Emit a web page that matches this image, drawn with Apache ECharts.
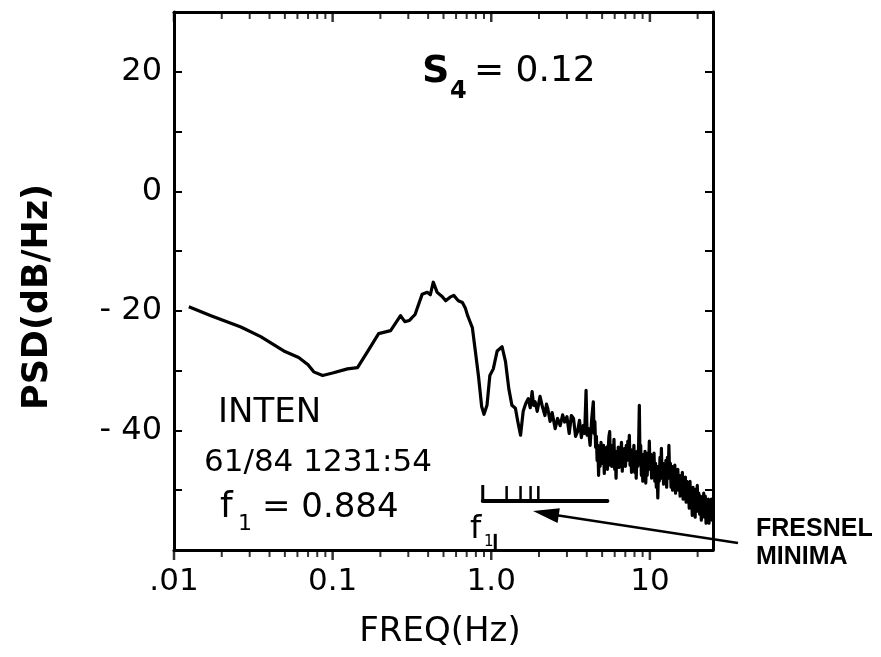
<!DOCTYPE html>
<html><head><meta charset="utf-8">
<script src="https://cdn.jsdelivr.net/npm/echarts@6/dist/echarts.min.js"></script>
<style>html,body{margin:0;padding:0;background:#fff}#c{width:881px;height:657px}</style>
</head><body><div id="c"></div>
<script>
// ---- data ----
const freq = [
  0.0124,0.0171,0.0264,0.0352,0.0492,0.0611,0.070,0.076,0.0865,0.100,
  0.124,0.1435,0.166,0.195,0.232,0.250,0.268,0.285,0.305,0.331,
  0.367,0.395,0.413,0.431,0.456,0.49,0.516,0.55,0.58,0.62,
  0.658,0.686,0.71,0.737,0.76,0.79,0.83,0.87,0.90,0.94,
  0.98,1.03,1.09,1.17,1.23,1.29,1.35,1.42,1.47,1.53,
  1.59,1.65,1.71,1.76,1.81,1.85,1.89,1.95,2.03,2.10,
  2.18,2.23,2.27,2.35,2.42,2.53,2.62,2.72,2.82,2.90,
  3.0,3.1,3.2,3.3,3.4,3.5,3.6,3.7,3.8,3.88,
  3.96,4.02,4.1,4.2,4.3,
  4.40,4.45,4.50,4.55,4.60,4.65,4.70,4.75,4.80,4.86,
  4.92,4.98,5.04,5.10,5.16,5.22,5.28,5.34,5.40,5.46,
  5.52,5.58,5.64,5.70,5.76,5.82,5.88,5.94,6.00,6.06,
  6.12,6.18,6.25,6.32,6.40,6.47,6.54,6.62,6.70,6.78,
  6.86,6.94,7.02,7.10,7.18,7.26,7.34,7.42,7.50,7.58,
  7.66,7.75,7.84,7.93,8.02,8.11,8.20,8.30,8.40,8.50,
  8.58,8.66,8.75,8.84,8.93,9.02,9.12,9.22,9.32,9.42,
  9.52,9.62,9.72,9.82,9.92,10.02,10.14,10.26,10.38,10.50,
  10.62,10.74,10.86,10.98,11.10,11.22,11.34,11.46,11.58,11.70,
  11.82,11.94,12.06,12.20,12.34,12.48,12.62,12.76,12.90,13.04,
  13.18,13.32,13.46,13.60,13.75,13.90,14.05,14.20,14.36,14.52,
  14.68,14.84,15.00,15.17,15.34,15.51,15.68,15.85,16.02,16.20,
  16.38,16.56,16.74,16.92,17.10,17.30,17.50,17.70,17.90,18.10,
  18.30,18.50,18.70,18.90,19.10,19.30,19.50,19.70,19.90,20.10,
  20.35,20.60,20.85,21.10,21.35,21.60,21.85,22.10,22.35,22.60,
  22.85,23.10,23.35,23.60,23.85,24.10,24.40,24.70,24.95
];
const psd = [
  -19.3,-20.8,-22.7,-24.3,-26.7,-27.8,-29.0,-30.2,-30.8,-30.4,
  -29.7,-29.5,-26.8,-23.8,-23.3,-22.0,-20.8,-21.8,-21.6,-20.6,
  -17.2,-16.9,-17.3,-15.2,-16.9,-17.6,-18.3,-17.7,-17.4,-18.3,
  -18.6,-19.5,-20.8,-21.9,-22.8,-26.3,-30.8,-36.0,-37.3,-35.8,
  -30.8,-29.7,-26.7,-26.0,-28.5,-33.0,-35.8,-36.3,-38.5,-40.8,
  -36.8,-35.5,-34.7,-36.2,-33.5,-35.8,-35.2,-36.8,-34.3,-36.0,
  -37.5,-35.6,-36.3,-38.5,-37.0,-39.7,-38.0,-39.2,-37.4,-38.6,
  -37.7,-40.5,-37.5,-38.0,-41.0,-40.2,-38.3,-41.2,-39.2,-40.5,
  -33.3,-40.8,-39.7,-42.5,-38.0,
  -35.2,-40.5,-38.5,-42.8,-41.0,-45.0,-42.5,-47.5,-43.0,-46.0,
  -42.0,-45.5,-43.0,-42.5,-47.2,-43.5,-45.5,-42.8,-46.5,-43.2,
  -41.0,-40.2,-45.8,-43.0,-46.0,-42.5,-44.5,-41.5,-46.5,-44.0,
  -48.0,-43.5,-45.8,-42.8,-46.2,-43.0,-45.0,-42.0,-46.8,-43.5,
  -45.5,-43.0,-46.0,-42.5,-45.0,-41.8,-44.5,-40.8,-45.8,-43.2,
  -47.0,-43.5,-45.5,-42.5,-47.0,-44.0,-48.0,-43.5,-46.0,-42.0,
  -35.8,-44.5,-42.5,-47.5,-44.0,-48.5,-44.5,-47.0,-43.5,-48.8,
  -45.0,-47.5,-43.8,-46.0,-41.8,-46.5,-44.0,-48.0,-45.0,-47.5,
  -43.8,-48.5,-45.5,-49.5,-46.0,-51.3,-46.5,-48.5,-44.5,-47.5,
  -43.0,-48.0,-45.5,-49.0,-46.0,-48.5,-45.0,-49.5,-44.5,-48.0,
  -42.5,-47.5,-45.5,-49.5,-46.0,-50.0,-47.0,-49.0,-45.8,-50.5,
  -47.5,-49.5,-46.5,-50.0,-47.5,-51.0,-48.0,-50.5,-47.0,-51.5,
  -48.5,-50.8,-47.8,-52.0,-48.5,-51.5,-49.0,-53.0,-48.5,-52.5,
  -50.0,-54.2,-49.5,-53.0,-50.5,-54.5,-49.8,-52.5,-49.2,-53.5,
  -50.5,-54.0,-51.0,-55.0,-51.5,-53.5,-50.5,-54.5,-51.0,-55.5,
  -52.0,-54.5,-51.5,-55.5,-52.5,-54.0,-51.5,-55.0,-52.0
];
const xMajorTicks = [0.01, 0.1, 1, 10];
const xTickLabels = ['.01', '0.1', '1.0', '10'];
const xMinorTicks = [0.02,0.03,0.04,0.05,0.06,0.07,0.08,0.09,
  0.2,0.3,0.4,0.5,0.6,0.7,0.8,0.9, 2,3,4,5,6,7,8,9, 20];
const yLabelValues = [20, 0, -20, -40];
const xMin = 0.01, xMax = 25, yMin = -60, yMax = 30;
// Fresnel minima marker
const f1 = 0.884;
const fresnelMinima = [1.25, 1.53, 1.77, 1.98];
const fresnelLineEnd = 5.4;
const fresnelLevel = -51.8;
const fresnelTickTop = -49.3;
const f1AxisMark = 1.06;
const f1AxisMarkTop = -57.3;

const series = freq.map((f, i) => [f, psd[i]]);
const chart = echarts.init(document.getElementById('c'), null, {renderer: 'canvas'});
const FONT = 'DejaVu Sans';
const black = '#000';

function xLabel(v) {
  for (let i = 0; i < xMajorTicks.length; i++) {
    if (Math.abs(Math.log10(v) - Math.log10(xMajorTicks[i])) < 1e-6) return xTickLabels[i];
  }
  return '';
}
function tickSeries(values, yv, w, h) {
  return {type: 'scatter', data: values.map(v => [v, yv]), symbol: 'rect', symbolSize: [w, h],
          symbolOffset: [0, h / 2], itemStyle: {color: black}, clip: false, silent: true, z: 8};
}

const staticGraphics = [
  {type: 'text', rotation: Math.PI / 2, x: 20, y: 410,
   style: {text: 'PSD(dB/Hz)', font: 'bold 35px "DejaVu Sans"', fill: black}, z: 10},
  {type: 'text', x: 440, y: 632, style: {text: 'FREQ(Hz)', font: '34px "DejaVu Sans"', fill: black, align: 'center', verticalAlign: 'middle'}, z: 10},
  {type: 'text', x: 422, y: 72, style: {text: 'S', font: 'bold 38px "DejaVu Sans"', fill: black, verticalAlign: 'middle'}, z: 10},
  {type: 'text', x: 450, y: 92, style: {text: '4', font: 'bold 24px "DejaVu Sans"', fill: black, verticalAlign: 'middle'}, z: 10},
  {type: 'text', x: 474, y: 72, style: {text: '= 0.12', font: '36px "DejaVu Sans"', fill: black, verticalAlign: 'middle'}, z: 10},
  {type: 'text', x: 218, y: 413, style: {text: 'INTEN', font: '34px "DejaVu Sans"', fill: black, verticalAlign: 'middle'}, z: 10},
  {type: 'text', x: 204, y: 463, style: {text: '61/84 1231:54', font: '31px "DejaVu Sans"', fill: black, verticalAlign: 'middle'}, z: 10},
  {type: 'text', x: 220, y: 508, style: {text: 'f', font: '36px "DejaVu Sans"', fill: black, verticalAlign: 'middle'}, z: 10},
  {type: 'text', x: 238, y: 524, style: {text: '1', font: '22px "DejaVu Sans"', fill: black, verticalAlign: 'middle'}, z: 10},
  {type: 'text', x: 262, y: 508, style: {text: '= 0.884', font: '34px "DejaVu Sans"', fill: black, verticalAlign: 'middle'}, z: 10},
  {type: 'text', x: 470, y: 530, style: {text: 'f', font: '32px "DejaVu Sans"', fill: black, verticalAlign: 'middle'}, z: 10},
  {type: 'text', x: 484, y: 542, style: {text: '1', font: '15px "DejaVu Sans"', fill: black, verticalAlign: 'middle'}, z: 10},
  {type: 'line', shape: {x1: 738, y1: 543, x2: 552, y2: 514.5}, style: {stroke: black, lineWidth: 2.5}, z: 10},
  {type: 'polygon', shape: {points: [[533, 511], [559.8, 508.2], [557.6, 523]]}, style: {fill: black}, z: 10},
  {type: 'text', x: 756, y: 529, style: {text: 'FRESNEL', font: 'bold 25px "Liberation Sans"', fill: black, verticalAlign: 'middle'}, z: 10},
  {type: 'text', x: 756, y: 557, style: {text: 'MINIMA', font: 'bold 25px "Liberation Sans"', fill: black, verticalAlign: 'middle'}, z: 10}
];

chart.setOption({
  animation: false,
  grid: {left: 174, right: 168, top: 12, bottom: 107},
  xAxis: [
    {type: 'log', min: xMin, max: xMax, position: 'bottom',
     axisLine: {show: true, onZero: false, lineStyle: {color: black, width: 3}},
     axisTick: {show: false},
     axisLabel: {formatter: xLabel, color: black, fontFamily: FONT, fontSize: 31, margin: 16, showMaxLabel: false},
     splitLine: {show: false}},
    {type: 'log', min: xMin, max: xMax, position: 'top',
     axisLine: {show: true, onZero: false, lineStyle: {color: black, width: 3}},
     axisTick: {show: false}, axisLabel: {show: false}, splitLine: {show: false}}
  ],
  yAxis: [
    {type: 'value', min: yMin, max: yMax, interval: 10, position: 'left',
     axisLine: {show: true, onZero: false, lineStyle: {color: black, width: 3}},
     axisTick: {show: true, inside: true, length: 8, lineStyle: {color: black, width: 2}},
     axisLabel: {color: black, fontFamily: FONT, fontSize: 32, margin: 12,
                 formatter: v => yLabelValues.indexOf(v) >= 0 ? String(v).replace('-', '- ') : ''},
     splitLine: {show: false}},
    {type: 'value', min: yMin, max: yMax, interval: 10, position: 'right',
     axisLine: {show: true, onZero: false, lineStyle: {color: black, width: 3}},
     axisTick: {show: true, inside: true, length: 8, lineStyle: {color: black, width: 2}},
     axisLabel: {show: false}, splitLine: {show: false}}
  ],
  series: [
    {type: 'line', data: series, symbol: 'none', lineStyle: {color: black, width: 3.2, join: 'round'}, z: 5},
    // bottom ticks point outward (down), top ticks point inward (down), as in the original
    tickSeries(xMajorTicks, yMin, 2.5, 10),
    tickSeries(xMinorTicks, yMin, 2, 7),
    tickSeries(xMajorTicks, yMax, 2.5, 10),
    tickSeries(xMinorTicks, yMax, 2, 7)
  ]
});

// Fresnel marker placed through the chart's own scales
const px = (x, y) => chart.convertToPixel({xAxisIndex: 0, yAxisIndex: 0}, [x, y]);
const extra = [];
{
  const p0 = px(f1, fresnelLevel), p1 = px(fresnelLineEnd, fresnelLevel);
  const top = px(f1, fresnelTickTop)[1];
  extra.push({type: 'line', shape: {x1: p0[0], y1: p0[1], x2: p1[0], y2: p1[1]},
    style: {stroke: black, lineWidth: 4, lineCap: 'round'}, z: 100});
  extra.push({type: 'line', shape: {x1: p0[0], y1: p0[1], x2: p0[0], y2: top - 1},
    style: {stroke: black, lineWidth: 3}, z: 100});
  fresnelMinima.forEach(m => {
    const p = px(m, fresnelLevel);
    extra.push({type: 'line', shape: {x1: p[0], y1: p[1], x2: p[0], y2: top},
      style: {stroke: black, lineWidth: 2.5}, z: 100});
  });
  const a = px(f1AxisMark, yMin), at = px(f1AxisMark, f1AxisMarkTop);
  extra.push({type: 'line', shape: {x1: a[0], y1: a[1], x2: at[0], y2: at[1]},
    style: {stroke: black, lineWidth: 3}, z: 100});
}
chart.setOption({graphic: extra.concat(staticGraphics)});
</script></body></html>
